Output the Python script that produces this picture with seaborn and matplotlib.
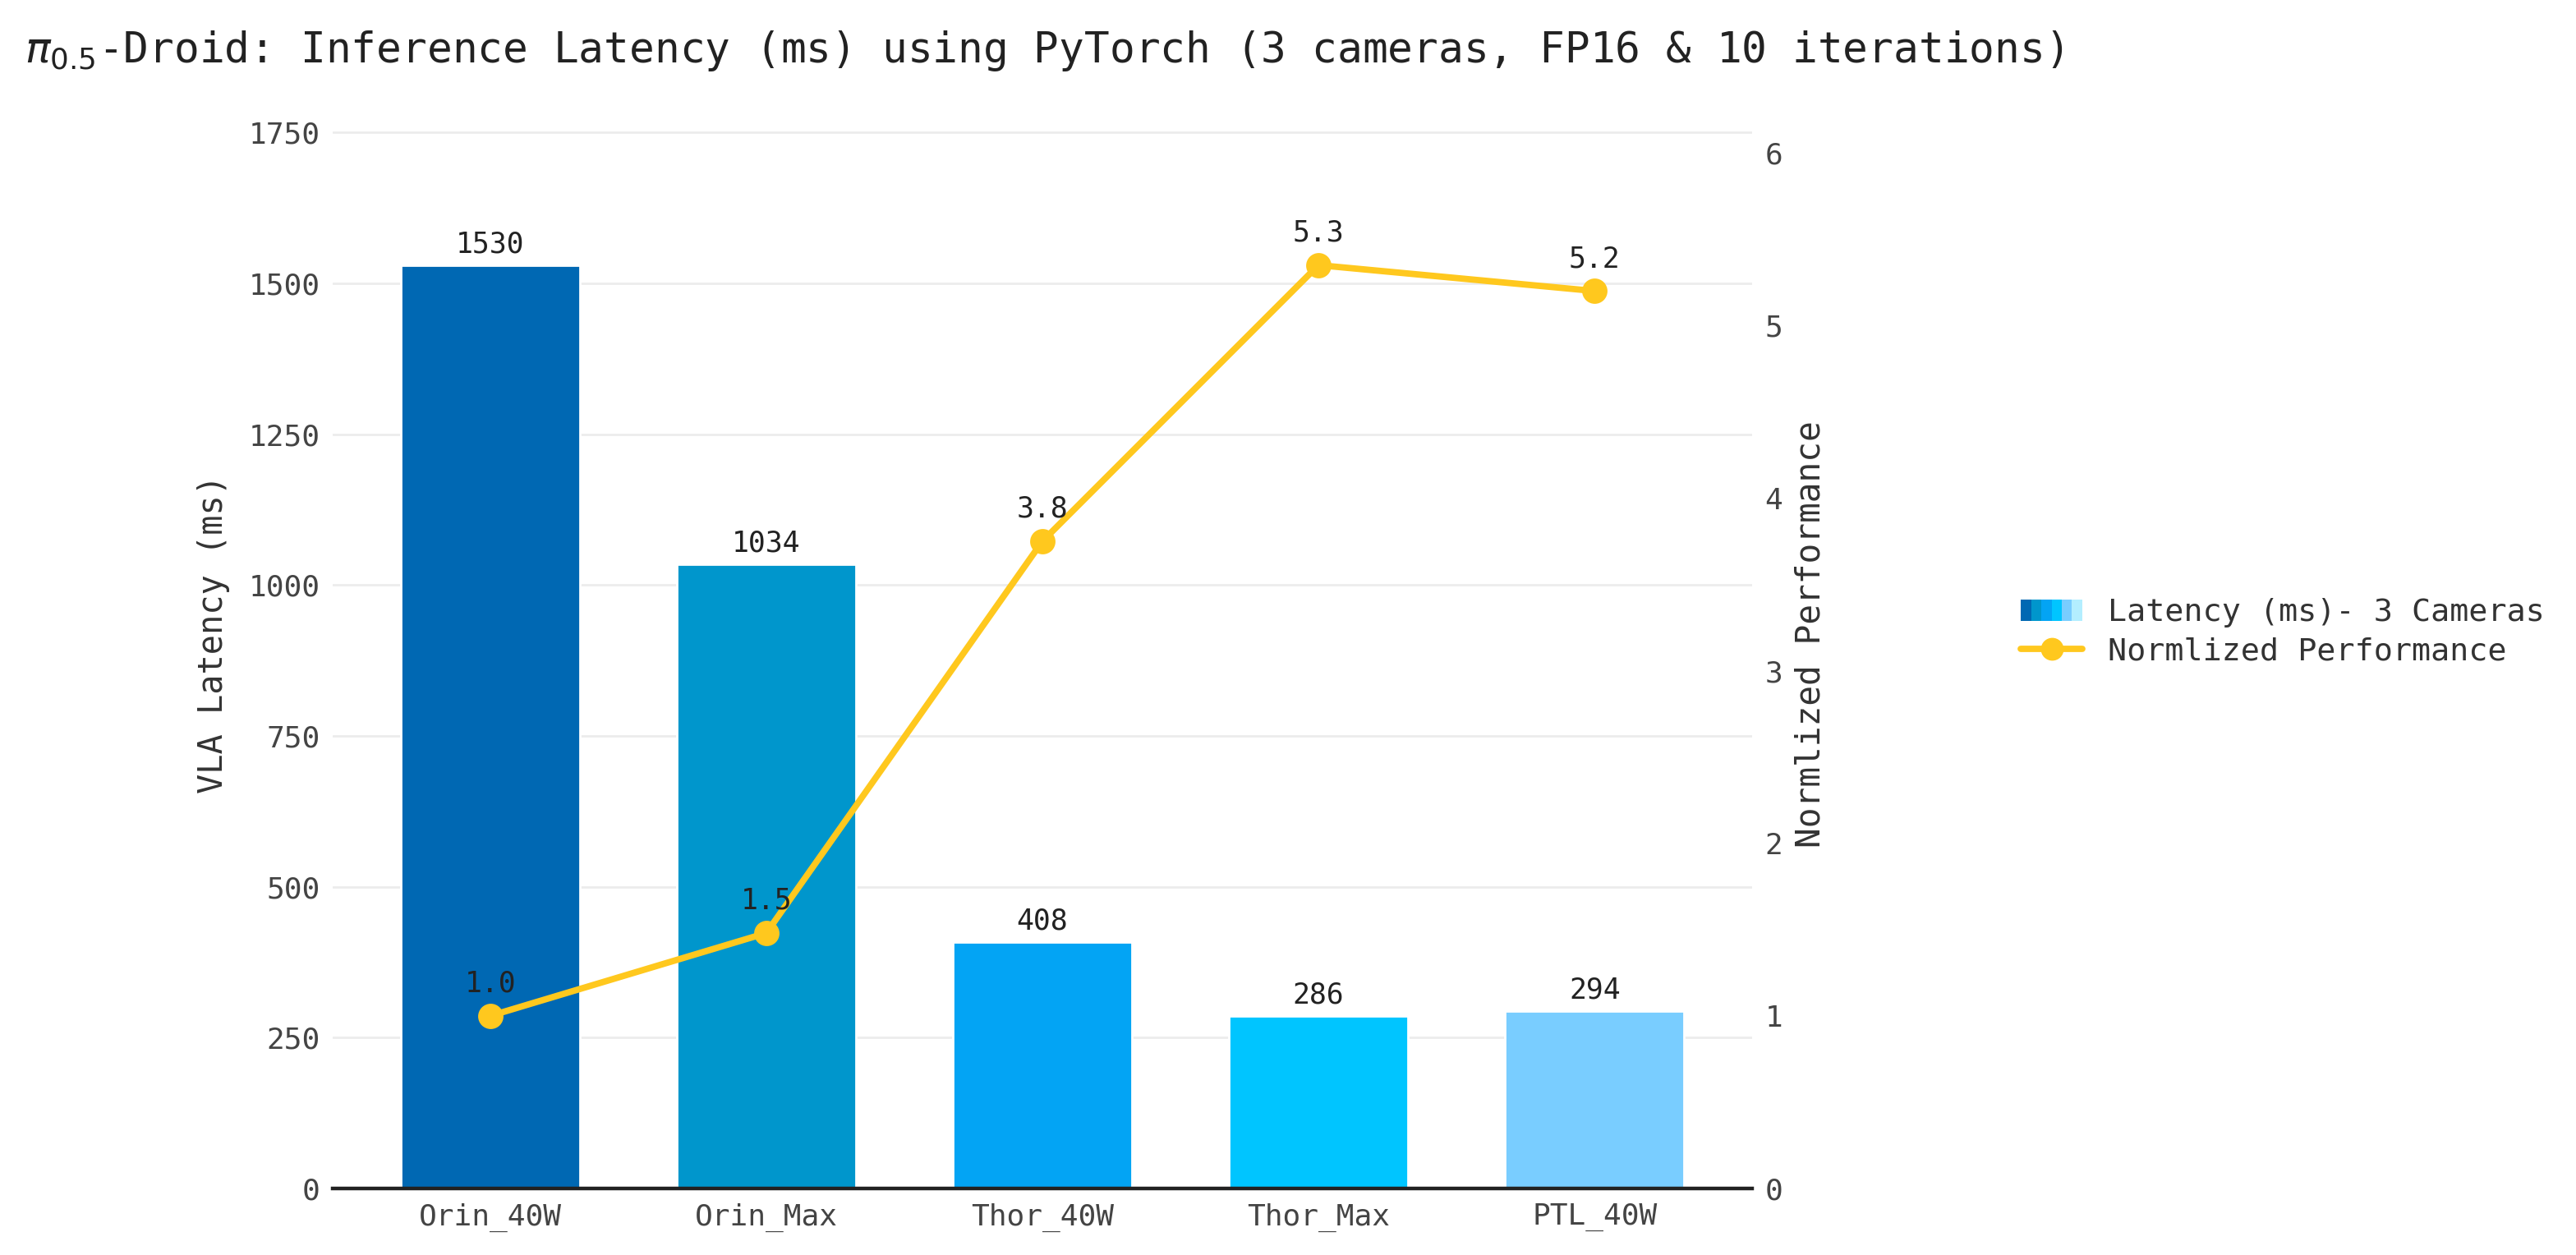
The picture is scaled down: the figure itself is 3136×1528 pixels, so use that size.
import matplotlib
matplotlib.use("Agg")
import matplotlib.pyplot as plt
import seaborn as sns
import pandas as pd
from matplotlib.patches import Rectangle
from matplotlib.lines import Line2D
from matplotlib.legend_handler import HandlerTuple

# data
devices = ["Orin_40W", "Orin_Max", "Thor_40W", "Thor_Max", "PTL_40W"]
latency_ms = [1530, 1034, 408, 286, 294]
norm_perf = [1.0, 1.48, 3.75, 5.35, 5.20]

# bar palette (6th colour only shows up in the legend swatch)
bar_colors = ["#0068b3", "#0096cc", "#03a4f4", "#00c5ff", "#79cdff", "#b3eeff"]
line_color = "#ffc81e"

sns.set_theme(style="white")
plt.rcParams["font.family"] = ["DejaVu Sans Mono", "DejaVu Sans"]

df = pd.DataFrame({"device": devices, "latency": latency_ms, "perf": norm_perf})

fig = plt.figure(figsize=(15.68, 7.64), dpi=200)
ax = fig.add_axes([0.1291, 0.0530, 0.5511, 0.8829])

# bars
sns.barplot(data=df, x="device", y="latency", hue="device",
            palette=bar_colors[:len(devices)], width=0.65, saturation=1,
            legend=False, ax=ax)
for cont in ax.containers:
    ax.bar_label(cont, fmt="%d", padding=3, fontsize=12.5, color="#222222")

ax.set_ylim(0, 1836)
ax.set_yticks([0, 250, 500, 750, 1000, 1250, 1500, 1750])
ax.yaxis.grid(True, color="#ececec", linewidth=1.0)
ax.set_axisbelow(True)
ax.set_xlabel("")
ax.set_ylabel("VLA Latency (ms)", fontsize=14.5, color="#333333", labelpad=8)
for s in ["top", "right", "left"]:
    ax.spines[s].set_visible(False)
ax.spines["bottom"].set_color("#222222")
ax.spines["bottom"].set_linewidth(1.6)
ax.tick_params(axis="both", length=0, labelsize=13, colors="#444444")
ax.tick_params(axis="x", pad=6.5)
ax.tick_params(axis="y", pad=5.5)

# line on the secondary axis
ax2 = ax.twinx()
sns.pointplot(data=df, x="device", y="perf", color=line_color, markers="o",
              markersize=9, linewidth=2.8, errorbar=None, ax=ax2)
for i, v in enumerate(norm_perf):
    ax2.annotate(f"{v:.1f}", (i, v), xytext=(0, 8), textcoords="offset points",
                 ha="center", va="bottom", fontsize=12.5, color="#222222")

ax2.set_ylim(0, 6.42)
ax2.set_yticks([0, 1, 2, 3, 4, 5, 6])
ax2.grid(False)
ax2.set_ylabel("Normlized Performance", fontsize=14.8, color="#333333", labelpad=5)
for s in ["top", "right", "left", "bottom"]:
    ax2.spines[s].set_visible(False)
ax2.tick_params(axis="y", length=0, labelsize=13, colors="#444444", pad=5.5)
ax.set_xlim(-0.571, len(devices) - 1 + 0.571)
ax2.set_xlim(-0.571, len(devices) - 1 + 0.571)

# title
fig.text(0.0096, 0.9595,
         r"$\pi_{0.5}$-Droid: Inference Latency (ms) using PyTorch (3 cameras, FP16 & 10 iterations)",
         fontsize=18.4, color="#222222", va="center", ha="left")

# legend with a striped swatch for the bars
swatch = tuple(Rectangle((0, 0), 1, 1, facecolor=c, edgecolor="none") for c in bar_colors)
line_handle = Line2D([0], [0], color=line_color, linewidth=2.8, marker="o", markersize=9)
fig.legend([swatch, line_handle], ["Latency (ms)- 3 Cameras", "Normlized Performance"],
           handler_map={tuple: HandlerTuple(ndivide=None, pad=0)},
           loc="center left", bbox_to_anchor=(0.7735, 0.496), frameon=False,
           fontsize=13.8, handlelength=1.95, handletextpad=0.8, labelspacing=0.3,
           labelcolor="#333333")

fig.savefig("out.png", dpi=200)
